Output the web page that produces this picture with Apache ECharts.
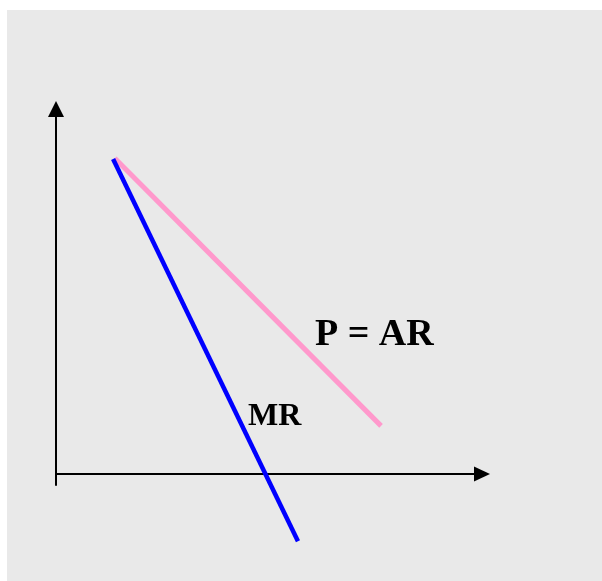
<!DOCTYPE html>
<html>
<head>
<meta charset="utf-8">
<script src="https://cdn.jsdelivr.net/npm/echarts@6/dist/echarts.min.js"></script>
<style>
  html, body { margin: 0; padding: 0; background: #fff; }
  #chart { width: 602px; height: 581px; }
</style>
</head>
<body>
<div id="chart"></div>
<script>
// demand (P = AR) and marginal revenue lines, [quantity, price]
var arLine = [[1.38, 8.65], [7.63, 1.32]];
var mrLine = [[1.34, 8.63], [5.68, -1.84]];
var arLabel = 'P = AR';
var mrLabel = 'MR';

var chart = echarts.init(document.getElementById('chart'));
chart.setOption({
  backgroundColor: '#fff',
  animation: false,
  graphic: [
    {
      type: 'rect', z: -10, silent: true,
      shape: { x: 7, y: 10, width: 595, height: 571 },
      style: { fill: '#e9e9e9' }
    },
    {
      type: 'text', z: 10, left: 315, top: 316,
      style: { text: arLabel, font: 'bold 38px "Liberation Serif"', fill: '#000' }
    },
    {
      type: 'text', z: 10, left: 248, top: 401,
      style: { text: mrLabel, font: 'bold 32px "Liberation Serif"', fill: '#000' }
    }
  ],
  grid: { left: 56, top: 109, right: 120, bottom: 96 },
  xAxis: {
    type: 'value', min: 0, max: 10,
    axisLine: {
      onZero: true,
      symbol: ['none', 'triangle'],
      symbolSize: [15, 16],
      lineStyle: { color: '#000', width: 2 }
    },
    axisTick: { show: false },
    axisLabel: { show: false },
    splitLine: { show: false }
  },
  yAxis: {
    type: 'value', min: -0.3, max: 10,
    axisLine: {
      show: true,
      onZero: true,
      symbol: ['none', 'triangle'],
      symbolSize: [16, 16],
      lineStyle: { color: '#000', width: 2 }
    },
    axisTick: { show: false },
    axisLabel: { show: false },
    splitLine: { show: false }
  },
  series: [
    {
      name: 'AR', type: 'line', data: arLine, clip: false,
      symbol: 'none',
      lineStyle: { color: '#ff99cc', width: 5 }
    },
    {
      name: 'MR', type: 'line', data: mrLine, clip: false,
      symbol: 'none',
      lineStyle: { color: '#0000ff', width: 4.5 }
    }
  ]
});
</script>
</body>
</html>
